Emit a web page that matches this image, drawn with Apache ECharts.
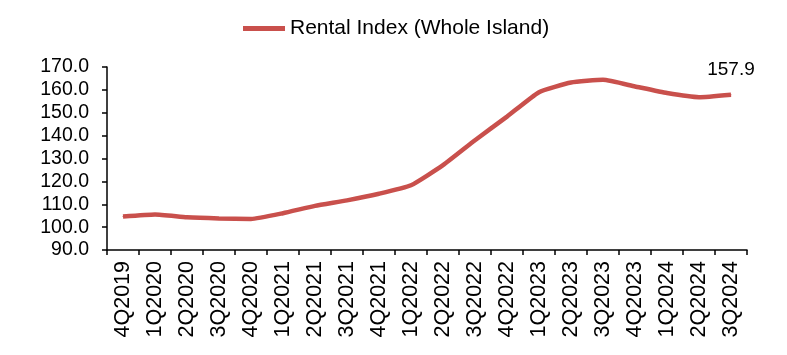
<!DOCTYPE html>
<html>
<head>
<meta charset="utf-8">
<script src="https://cdn.jsdelivr.net/npm/echarts@6/dist/echarts.min.js"></script>
<style>
  html, body { margin: 0; padding: 0; background: #fff; }
  #chart { width: 787px; height: 355px; }
</style>
</head>
<body>
<div id="chart"></div>
<script>
var quarters = ['4Q2019', '1Q2020', '2Q2020', '3Q2020', '4Q2020', '1Q2021', '2Q2021', '3Q2021', '4Q2021',
  '1Q2022', '2Q2022', '3Q2022', '4Q2022', '1Q2023', '2Q2023', '3Q2023', '4Q2023', '1Q2024', '2Q2024', '3Q2024'];
var rentalIndex = [104.6, 105.5, 104.3, 103.8, 103.6, 106.1, 109.3, 111.7, 114.6,
  118.3, 127.1, 138.0, 148.3, 159.0, 163.2, 164.4, 161.5, 158.6, 156.8, 157.9];
var seriesName = 'Rental Index (Whole Island)';

var font = 'Liberation Sans, Arial, sans-serif';
var lineColor = '#C9504C';
var lastIdx = rentalIndex.length - 1;

// only the last point carries a value label
var lineData = rentalIndex.map(function (v, i) {
  if (i !== lastIdx) return v;
  return {
    value: v,
    label: {
      show: true,
      position: 'top',
      distance: 15,
      formatter: function (p) { return p.value.toFixed(1); },
      color: '#000',
      fontSize: 19,
      fontFamily: font
    }
  };
});

var chart = echarts.init(document.getElementById('chart'));
chart.setOption({
  animation: false,
  legend: {
    top: 13,
    left: 238,
    itemWidth: 42,
    itemHeight: 5,
    itemGap: 6,
    icon: 'rect',
    textStyle: { fontSize: 21, fontFamily: font, color: '#000', padding: [0, 0, 0, 0] },
    data: [seriesName]
  },
  grid: { left: 107, right: 40, top: 67, bottom: 105 },
  xAxis: {
    type: 'category',
    data: quarters,
    boundaryGap: true,
    axisLine: { lineStyle: { color: '#000', width: 1.5 } },
    axisTick: { show: true, length: 5, lineStyle: { color: '#000', width: 1.5 } },
    axisLabel: { rotate: 90, interval: 0, fontSize: 21.5, fontFamily: font, color: '#000', margin: 11 }
  },
  yAxis: {
    type: 'value',
    min: 90,
    max: 170,
    interval: 10,
    axisLine: { show: true, lineStyle: { color: '#000', width: 1.5 } },
    axisTick: { show: true, length: 5, lineStyle: { color: '#000', width: 1.5 } },
    splitLine: { show: false },
    axisLabel: {
      fontSize: 19.5, fontFamily: font, color: '#000', margin: 18,
      formatter: function (v) { return v.toFixed(1); }
    }
  },
  series: [{
    name: seriesName,
    type: 'line',
    data: lineData,
    smooth: 0.15,
    showSymbol: true,
    symbol: 'circle',
    symbolSize: 1,
    itemStyle: { color: lineColor },
    color: lineColor,
    lineStyle: { color: lineColor, width: 4.5 }
  }]
});
</script>
</body>
</html>
